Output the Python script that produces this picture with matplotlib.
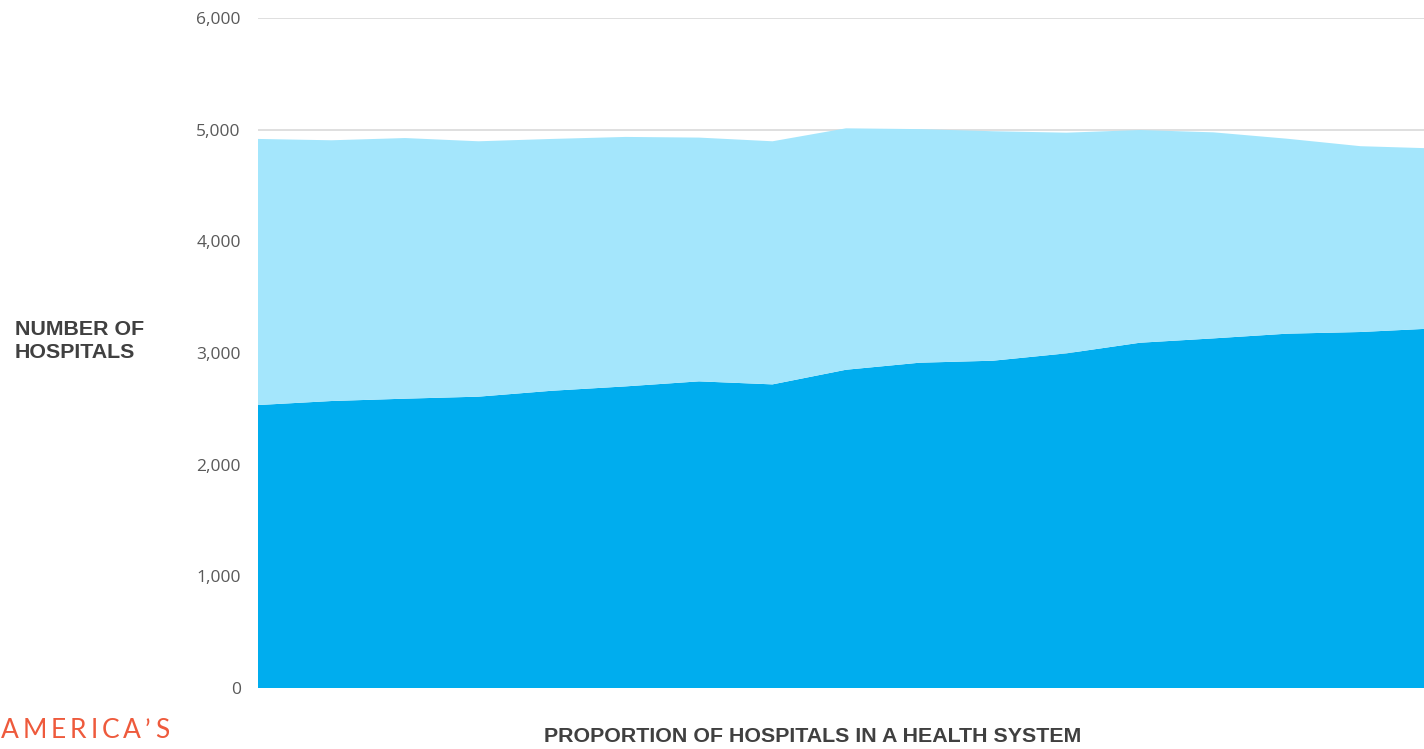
import matplotlib
matplotlib.use("Agg")
import matplotlib.pyplot as plt
import numpy as np

# Data
years = list(range(2005, 2022))
in_system = [2534, 2570, 2591, 2609, 2662, 2701, 2746, 2719, 2850, 2913, 2931,
             2997, 3092, 3131, 3173, 3188, 3220]
total_hospitals = [4917, 4905, 4925, 4896, 4917, 4935, 4929, 4896, 5012, 5005, 4986,
                   4973, 4997, 4976, 4919, 4852, 4832]
not_in_system = [t - s for t, s in zip(total_hospitals, in_system)]
y_ticks = [0, 1000, 2000, 3000, 4000, 5000, 6000]

W, H = 1424, 749
fig = plt.figure(figsize=(W / 100, H / 100), dpi=100)
ax = fig.add_axes([258 / W, (H - 688) / H, (W - 258) / W, (688 - 18) / H])

x = np.arange(len(years))
ax.stackplot(x, in_system, not_in_system, colors=["#00ADEE", "#A4E6FC"],
             linewidth=0, zorder=2)

ax.set_ylim(0, 6000)
ax.set_xlim(0, (W - 258) / 73.5)
ax.set_yticks(y_ticks)
ax.set_yticklabels([f"{v:,}" for v in y_ticks], fontsize=12.5, color="#595959",
                   family="Open Sans")
ax.tick_params(axis="y", length=0, pad=12.5)
ax.set_xticks([])
ax.yaxis.grid(True, color="#d9d9d9", linewidth=1.2, zorder=0)
ax.set_axisbelow(True)
for s in ax.spines.values():
    s.set_visible(False)

fig.text(15 / W, 1 - 341 / H, "NUMBER OF\nHOSPITALS", fontsize=15.4, fontweight="bold",
         color="#404040", family="Liberation Sans", ha="left", va="center",
         linespacing=1.3)
fig.text(813 / W, 1 - 737 / H, "PROPORTION OF HOSPITALS IN A HEALTH SYSTEM",
         fontsize=15.4, fontweight="bold", color="#404040", family="Liberation Sans",
         ha="center", va="center")

# Letter-spaced logo text
renderer = fig.canvas.get_renderer()
logo = "AMERICA’S"
cx = 0.5
for ch in logo:
    t = fig.text(cx / W, 1 - 731 / H, ch, fontsize=19, color="#EE5A3C",
                 family="Lato", ha="left", va="center")
    bb = t.get_window_extent(renderer=renderer)
    cx += bb.width + 4.0

fig.savefig("out.png", dpi=100)
